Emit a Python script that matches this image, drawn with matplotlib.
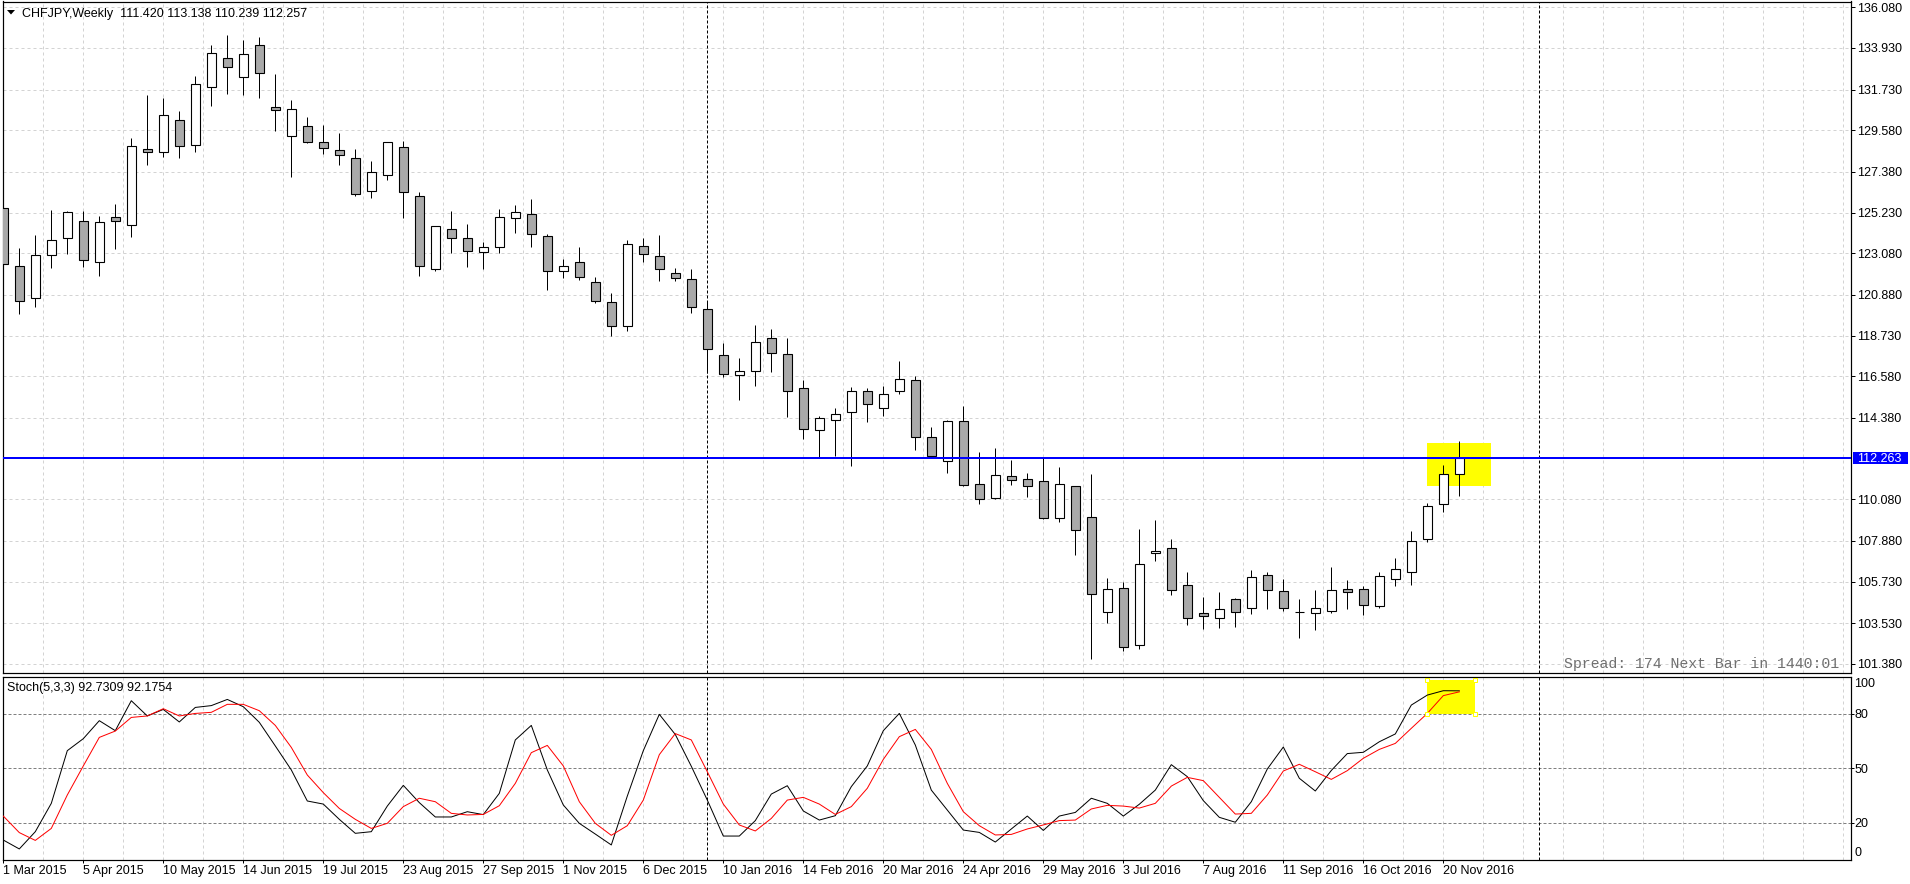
import numpy as np
import matplotlib
matplotlib.use('Agg')
import matplotlib.pyplot as plt
from matplotlib.patches import Rectangle, Polygon
import matplotlib.transforms as mtransforms

W, H = 1910, 884
DPI = 100
PX = 72.0 / DPI  # points per pixel

plt.rcParams['font.family'] = ['Liberation Sans', 'DejaVu Sans']
plt.rcParams['lines.scale_dashes'] = False

# ---------------- data ----------------
header_text = "CHFJPY,Weekly  111.420 113.138 110.239 112.257"
stoch_text = "Stoch(5,3,3) 92.7309 92.1754"
spread_text = "Spread: 174 Next Bar in 1440:01"

opens = [125.46, 122.39, 120.70, 122.97, 123.87, 124.77, 122.60, 124.98, 124.56, 128.57,
         128.41, 130.11, 128.79, 131.85, 133.38, 132.38, 134.07, 130.79, 129.26, 129.81,
         128.94, 128.52, 128.10, 126.35, 127.20, 128.68, 126.09, 122.23, 124.34, 123.87,
         123.13, 123.39, 124.93, 125.14, 123.97, 122.12, 122.60, 121.54, 120.49, 119.22,
         123.45, 122.95, 122.05, 121.72, 120.12, 117.69, 116.66, 116.84, 118.58, 117.74,
         115.94, 113.72, 114.25, 114.67, 115.78, 114.88, 115.78, 116.39, 113.35, 112.08,
         114.20, 110.87, 110.13, 111.29, 111.13, 111.02, 109.07, 110.76, 109.12, 104.10,
         105.37, 102.36, 107.22, 107.48, 105.53, 104.05, 103.78, 104.79, 104.31, 106.06,
         105.21, 104.10, 104.05, 104.15, 105.32, 105.32, 104.42, 105.85, 106.22, 107.96,
         109.81, 111.420]
highs = [125.77, 123.34, 124.05, 125.37, 125.30, 125.31, 125.05, 125.68, 129.15, 131.45,
         131.29, 130.60, 132.45, 134.09, 134.62, 134.35, 134.51, 132.55, 131.18, 130.30,
         129.86, 129.44, 128.59, 127.96, 128.96, 129.01, 126.32, 124.52, 125.31, 124.63,
         123.67, 125.42, 125.63, 125.95, 124.10, 122.77, 123.41, 121.85, 120.96, 123.78,
         123.90, 124.05, 122.30, 122.24, 120.49, 118.34, 117.54, 119.29, 119.08, 118.60,
         116.38, 114.48, 114.90, 116.01, 115.96, 116.06, 117.41, 116.60, 113.90, 114.25,
         115.02, 112.59, 112.79, 112.15, 111.47, 112.31, 111.78, 110.78, 111.41, 105.90,
         105.70, 108.51, 108.98, 107.97, 106.23, 104.91, 105.18, 104.88, 106.34, 106.22,
         105.84, 104.81, 105.26, 106.50, 105.79, 105.49, 106.22, 106.97, 108.38, 109.86,
         111.89, 113.138]
lows = [122.34, 119.89, 120.26, 122.32, 123.06, 122.35, 121.90, 123.32, 123.96, 127.76,
        128.19, 128.13, 128.45, 130.88, 131.52, 131.46, 131.30, 129.56, 127.13, 128.93,
        128.34, 127.76, 126.12, 126.02, 126.97, 124.96, 121.90, 122.16, 123.09, 122.37,
        122.27, 123.09, 124.15, 123.43, 121.16, 121.79, 121.68, 120.43, 118.72, 118.99,
        122.62, 121.60, 121.59, 119.90, 116.73, 116.56, 115.34, 116.06, 116.80, 114.43,
        113.28, 112.31, 112.35, 111.85, 114.18, 114.50, 115.66, 112.70, 112.24, 111.48,
        110.78, 109.84, 110.07, 110.85, 110.22, 109.05, 108.89, 107.15, 101.65, 103.56,
        102.07, 102.18, 106.83, 105.03, 103.45, 103.24, 103.29, 103.34, 104.03, 104.28,
        104.19, 102.76, 103.19, 104.08, 104.30, 103.98, 104.35, 105.51, 105.56, 107.84,
        109.42, 110.239]
closes = [122.50, 120.54, 122.97, 123.76, 125.24, 122.71, 124.71, 124.77, 128.73, 128.41,
          130.37, 128.73, 132.01, 133.65, 132.91, 133.59, 132.59, 130.63, 130.69, 128.98,
          128.63, 128.26, 126.19, 127.36, 128.94, 126.30, 122.39, 124.50, 123.87, 123.18,
          123.39, 124.98, 125.24, 124.08, 122.12, 122.39, 121.81, 120.54, 119.22, 123.59,
          123.05, 122.25, 121.79, 120.22, 118.00, 116.72, 116.84, 118.37, 117.79, 115.78,
          113.77, 114.36, 114.57, 115.78, 115.10, 115.62, 116.45, 113.35, 112.38, 114.20,
          110.81, 110.07, 111.34, 111.08, 110.80, 109.07, 110.87, 108.43, 105.05, 105.32,
          102.25, 106.64, 107.36, 105.26, 103.78, 103.89, 104.26, 104.10, 105.95, 105.26,
          104.31, 104.10, 104.31, 105.26, 105.16, 104.47, 106.00, 106.37, 107.85, 109.70,
          111.40, 112.257]

stoch_k = [10.6, 5.7, 15.2, 30.8, 59.8, 66.4, 76.3, 70.8, 87.3, 78.9,
           82.5, 75.6, 83.6, 84.6, 88.0, 84.0, 75.4, 62.4, 49.2, 32.1,
           30.4, 22.0, 14.3, 15.2, 29.3, 40.7, 31.2, 23.3, 23.3, 26.2,
           24.6, 36.3, 65.7, 73.7, 49.2, 29.9, 19.8, 13.9, 7.9, 34.8,
           59.8, 79.8, 68.7, 51.2, 32.6, 12.8, 12.8, 21.3, 35.9, 40.5,
           26.6, 21.6, 24.0, 40.0, 51.4, 70.8, 80.3, 62.9, 38.1, 27.1,
           16.1, 14.8, 9.5, 16.7, 23.8, 15.9, 23.8, 25.8, 33.6, 30.8,
           23.8, 30.3, 38.1, 52.1, 45.5, 32.3, 23.1, 20.4, 31.7, 49.7,
           61.8, 44.6, 37.6, 48.9, 58.2, 58.9, 64.7, 69.0, 84.9, 90.4,
           92.8, 92.7309]
stoch_d = [23.8, 14.7, 10.4, 17.0, 35.4, 51.4, 67.1, 70.6, 78.1, 78.9,
           82.9, 78.9, 80.3, 80.9, 85.3, 85.3, 81.8, 73.7, 61.6, 46.4,
           36.7, 28.0, 22.0, 17.0, 19.8, 29.0, 33.6, 31.7, 25.3, 24.4,
           24.7, 29.5, 41.8, 58.7, 62.7, 51.4, 31.7, 19.8, 13.2, 18.5,
           32.6, 57.6, 69.2, 65.7, 48.2, 30.4, 18.9, 15.6, 22.5, 32.6,
           34.1, 30.4, 24.7, 29.0, 39.1, 55.0, 67.5, 71.5, 60.5, 41.8,
           26.2, 18.5, 13.4, 13.7, 16.7, 18.9, 21.3, 21.6, 27.7, 29.7,
           29.3, 28.2, 30.8, 40.3, 45.1, 43.3, 34.1, 24.9, 25.3, 35.4,
           48.6, 52.3, 48.2, 44.0, 48.8, 55.6, 60.5, 63.8, 72.1, 80.3,
           90.1, 92.1754]

date_labels = ["1 Mar 2015", "5 Apr 2015", "10 May 2015", "14 Jun 2015", "19 Jul 2015",
               "23 Aug 2015", "27 Sep 2015", "1 Nov 2015", "6 Dec 2015", "10 Jan 2016",
               "14 Feb 2016", "20 Mar 2016", "24 Apr 2016", "29 May 2016", "3 Jul 2016",
               "7 Aug 2016", "11 Sep 2016", "16 Oct 2016", "20 Nov 2016"]
date_label_bars = [0, 5, 10, 15, 20, 25, 30, 35, 40, 45, 50, 55, 60, 65, 70, 75, 80, 85, 90]

price_labels = ["136.080", "133.930", "131.730", "129.580", "127.380", "125.230", "123.080",
                "120.880", "118.730", "116.580", "114.380", "110.080", "107.880", "105.730",
                "103.530", "101.380"]
current_price = 112.263
stoch_levels = [20, 50, 80]
separator_bars = [44, 96]          # year separators (3 Jan 2016, 1 Jan 2017)

# highlight boxes (bar index / value ranges)
price_box = (88.98, 92.98, 110.795, 113.05)
stoch_box = (88.98, 92.0, 80.0, 98.7)

# ---------------- figure ----------------
fig = plt.figure(figsize=(W / DPI, H / DPI), dpi=DPI, facecolor='white')

def fx(px):
    return px / W

def fy(py):
    return 1 - py / H

ax1 = fig.add_axes([fx(2.5), fy(673), fx(1851 - 2.5), (673 - 1.5) / H])
ax2 = fig.add_axes([fx(2.5), fy(860), fx(1851 - 2.5), (860 - 677) / H])

XL = (-0.05, 115.48)
PY = (100.896, 136.387)
SY = (-0.385, 100.35)

grid_col = '#d3d3d3'
grid_ls = (0, (3 * PX, 3 * PX))
gx = np.arange(0, 116, 2.5)

for ax, yl in ((ax1, PY), (ax2, SY)):
    ax.set_xlim(*XL)
    ax.set_ylim(*yl)
    ax.set_facecolor('white')
    for s in ax.spines.values():
        s.set_linewidth(1.2 * PX)
        s.set_color('black')
    ax.vlines(gx, yl[0], yl[1], colors=grid_col, linewidth=PX, linestyles=grid_ls, zorder=0.5)
    ax.vlines(separator_bars, yl[0], yl[1], colors='black', linewidth=PX,
              linestyles=(0, (3 * PX, 2 * PX)), zorder=2)

# ---- price panel ----
price_ticks = [float(s) for s in price_labels]
ax1.hlines(price_ticks, *XL, colors=grid_col, linewidth=PX, linestyles=grid_ls, zorder=0.5)

o = np.array(opens); h = np.array(highs); l = np.array(lows); c = np.array(closes)
x = np.arange(len(o))
bull = c >= o
ax1.add_patch(Rectangle((price_box[0], price_box[2]), price_box[1] - price_box[0],
                        price_box[3] - price_box[2], facecolor='#ffff00', edgecolor='none', zorder=1))
ax1.vlines(x, l, h, colors='black', linewidth=PX, zorder=3)
ax1.bar(x, np.abs(c - o), bottom=np.minimum(o, c), width=0.5625,
        color=np.where(bull, 'white', '#a9a9a9'), edgecolor='black', linewidth=1.1 * PX, zorder=4)
ax1.axhline(current_price, color='#0000ff', linewidth=2 * PX, zorder=5)

ax1.yaxis.tick_right()
ax1.set_yticks(price_ticks)
ax1.set_yticklabels(price_labels)
ax1.tick_params(axis='y', direction='out', length=4 * PX, width=PX, pad=1.6 * PX * 1.0,
                labelsize=9, labelcolor='black')
ax1.tick_params(axis='x', bottom=False, labelbottom=False)

# current price label box
bt = mtransforms.blended_transform_factory(fig.transFigure, ax1.transData)
box_h = 12.5 / 18.92
fig.add_artist(Rectangle((fx(1852.5), current_price - box_h / 2), fx(55), box_h,
                         transform=bt, facecolor='#0000ff', edgecolor='none', zorder=6))
fig.text(fx(1857), 0, "112.263", transform=bt, fontsize=9, color='white',
         va='center_baseline', ha='left', zorder=7).set_y(current_price)

# header
tri = Polygon([[fx(7), fy(10)], [fx(15), fy(10)], [fx(11), fy(14.5)]], closed=True,
              transform=fig.transFigure, facecolor='black', edgecolor='none')
fig.add_artist(tri)
fig.text(fx(21.5), fy(16.8), header_text, fontsize=9, color='black', va='baseline', ha='left')

# spread text
fig.text(fx(1839), fy(664), spread_text, fontsize=10.7, family='Liberation Mono',
         color='#707070', ha='right', va='center')

# ---- stochastic panel ----
ax2.hlines(stoch_levels, *XL, colors='#808080', linewidth=PX, linestyles=(0, (3 * PX, 2 * PX)), zorder=0.8)
ax2.add_patch(Rectangle((stoch_box[0], stoch_box[2]), stoch_box[1] - stoch_box[0],
                        stoch_box[3] - stoch_box[2], facecolor='#ffff00', edgecolor='none', zorder=1))
xs = np.arange(len(stoch_k))
ax2.plot(xs, stoch_k, color='black', linewidth=PX, zorder=3)
ax2.plot(xs, stoch_d, color='red', linewidth=PX, zorder=3)
ax2.plot([stoch_box[0], stoch_box[1], stoch_box[0], stoch_box[1]],
         [stoch_box[2], stoch_box[2], stoch_box[3], stoch_box[3]],
         linestyle='none', marker='s', markersize=3.5, markerfacecolor='white',
         markeredgecolor='#ffff00', markeredgewidth=PX, zorder=4, clip_on=False)

ax2.yaxis.tick_right()
ax2.set_yticks([0, 20, 50, 80, 100])
ax2.set_yticklabels(['0', '20', '50', '80', '100'])
ax2.tick_params(axis='y', direction='out', length=3 * PX, width=PX, pad=0.3, labelsize=9)
yt = ax2.yaxis.get_major_ticks()
for idx in (0, 4):
    yt[idx].tick2line.set_visible(False)
yt[0].label2.set_va('bottom')
yt[4].label2.set_va('top')

ax2.set_xticks(date_label_bars)
ax2.set_xticklabels(date_labels, ha='left')
ax2.tick_params(axis='x', direction='out', length=3 * PX, width=PX, pad=1.5, labelsize=9)

fig.text(fx(6.5), fy(688), stoch_text, fontsize=9, color='black', va='center', ha='left')

fig.savefig('out.png', dpi=DPI, facecolor='white')
